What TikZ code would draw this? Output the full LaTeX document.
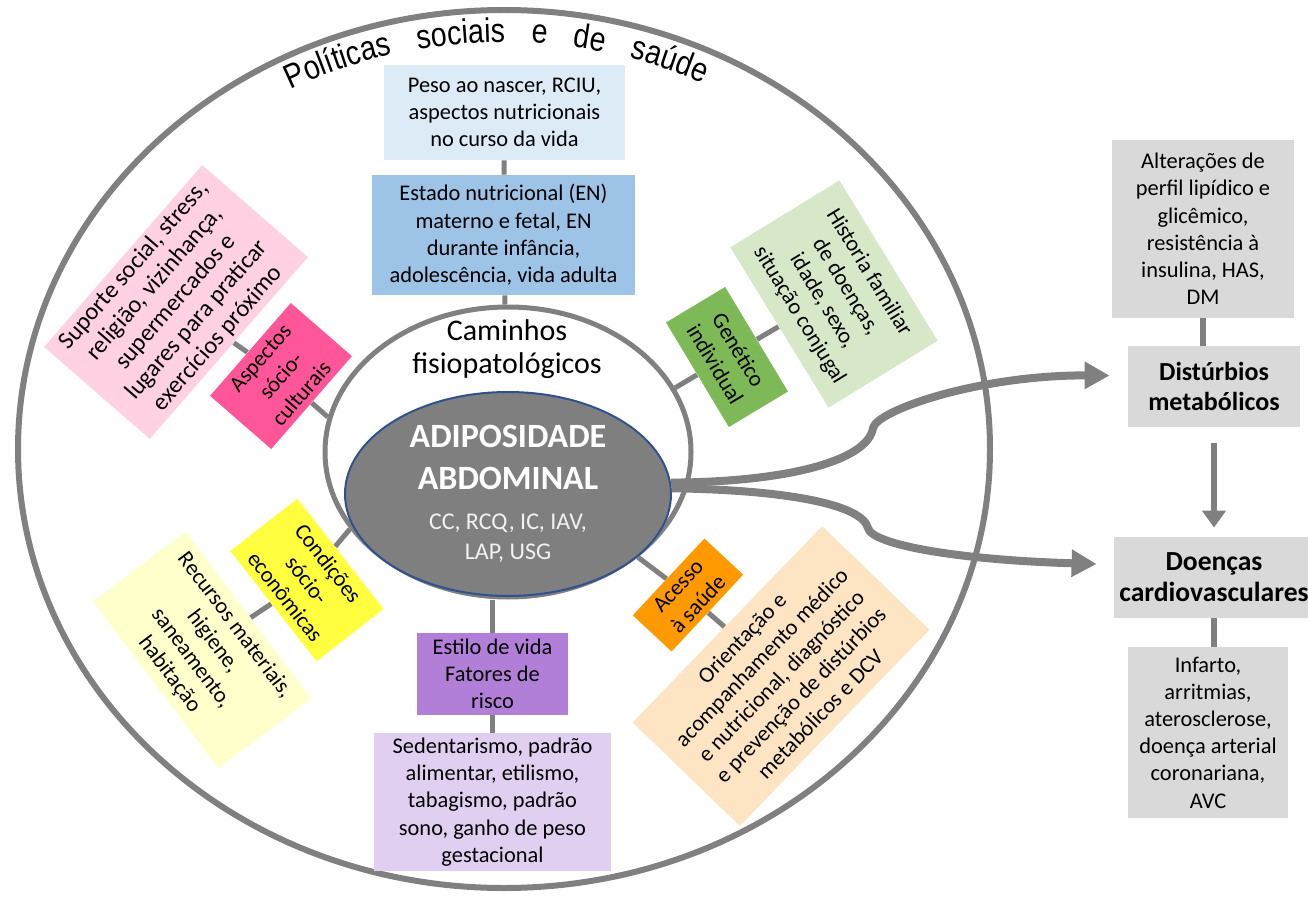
\documentclass[tikz,border=0pt]{standalone}
\usepackage{fontspec}
\setmainfont{Carlito}
\newfontfamily\arialfont[FakeStretch=0.84]{Liberation Sans}
\usetikzlibrary{shapes.geometric,arrows.meta,decorations.text,backgrounds}
\definecolor{linegray}{RGB}{128,128,128}
\definecolor{adipogray}{RGB}{127,127,127}
\definecolor{adipoborder}{RGB}{47,82,143}
\definecolor{adipotext}{RGB}{242,242,242}
\definecolor{pesofill}{RGB}{221,235,247}
\definecolor{estadofill}{RGB}{157,195,230}
\definecolor{estilofill}{RGB}{178,127,216}
\definecolor{sedentfill}{RGB}{225,207,241}
\definecolor{suportefill}{RGB}{255,209,227}
\definecolor{aspectosfill}{RGB}{255,85,153}
\definecolor{geneticofill}{RGB}{126,185,87}
\definecolor{historiafill}{RGB}{214,232,200}
\definecolor{condicoesfill}{RGB}{255,255,64}
\definecolor{recursosfill}{RGB}{255,255,204}
\definecolor{acessofill}{RGB}{255,153,0}
\definecolor{orientacaofill}{RGB}{253,229,196}
\definecolor{rightfill}{RGB}{217,217,217}
\newcommand{\boxfont}{\fontsize{11.2}{13.6}\selectfont}
\newcommand{\headfont}{\fontsize{13}{15}\selectfont\bfseries}
\newcommand{\bigheadfont}{\fontsize{13.8}{15.5}\selectfont\bfseries}
\tikzstyle{box}       = [rectangle, align=center, inner sep=2pt, font=\boxfont]
\tikzstyle{link}      = [draw=linegray, line width=2.5pt]
\tikzstyle{rlink}     = [draw=linegray, line width=2.8pt]
\tikzstyle{bigarrow}  = [draw=linegray, line width=4pt, -{Triangle[length=12.5pt,width=13pt]}]
\tikzstyle{downarrow} = [draw=linegray, line width=3pt, -{Triangle[length=8.5pt,width=11.5pt]}]

\begin{document}
\begin{tikzpicture}[x=0.5pt,y=-0.5pt]
	\useasboundingbox (0,0) rectangle (1308,899);

	% outer ring and its title
	\draw[linegray, line width=3pt] (504,449) ellipse [x radius=486, y radius=439];
	\path[decorate, decoration={text along path, text align=fit to path stretching spaces,
		text={|\arialfont\fontsize{17}{20}\selectfont|Políticas sociais e de saúde}}]
		(504,449) ++(-118:454 and 407) arc[start angle=-118, end angle=-64, x radius=454, y radius=407];

	% centre
	\node[ellipse, draw=linegray, line width=2.5pt, minimum width=183pt, minimum height=145pt] (caminhos) at (508,452) {};
	\node[align=center, font=\fontsize{15}{16.5}\selectfont] (camtxt) at (507,349) {Caminhos\\fisiopatológicos};
	\node[ellipse, fill=adipogray, draw=adipoborder, line width=1pt, inner sep=1pt, minimum width=163pt, minimum height=102pt,
		align=center, text=white, font=\fontsize{17}{21}\selectfont\bfseries] (adipo) at (508,494)
		{ADIPOSIDADE\\[0pt]ABDOMINAL\\[-1pt]{\fontsize{12}{15}\selectfont\mdseries\color{adipotext}CC, RCQ, IC, IAV,}\\[-6pt]{\fontsize{12}{15}\selectfont\mdseries\color{adipotext}LAP, USG}};

	% top and bottom
	\node[box, fill=pesofill, minimum width=120.5pt, minimum height=47.5pt] (peso) at (504.5,112.5) {Peso ao nascer, RCIU,\\aspectos nutricionais\\no curso da vida};
	\node[box, fill=estadofill, minimum width=131.5pt, minimum height=60pt] (estado) at (503.5,235) {Estado nutricional (EN)\\materno e fetal, EN\\durante infância,\\adolescência, vida adulta};
	\node[box, fill=estilofill, minimum width=75.5pt, minimum height=41pt] (estilo) at (492.5,674) {Estilo de vida\\Fatores de\\risco};
	\node[box, fill=sedentfill, minimum width=118.5pt, minimum height=69pt] (sedent) at (492.5,802) {Sedentarismo, padrão\\alimentar, etilismo,\\tabagismo, padrão\\sono, ganho de peso\\gestacional};

	% rotated pairs
	\node[box, fill=suportefill, minimum width=120.5pt, minimum height=69.5pt, rotate=49, font=\fontsize{12.2}{13.9}\selectfont] (suporte) at (176,302) {Suporte social, stress,\\religião, vizinhança,\\supermercados e\\lugares para praticar\\exercícios próximo};
	\node[box, fill=aspectosfill, minimum width=61.5pt, minimum height=40.5pt, rotate=49] (aspectos) at (281,376) {Aspectos\\sócio-\\culturais};
	\node[box, fill=geneticofill, minimum width=61pt, minimum height=34.5pt, rotate=-59] (genetico) at (727,357) {Genético\\individual};
	\node[box, fill=historiafill, minimum width=94pt, minimum height=64pt, rotate=-58.5] (historia) at (834,294) {Historia familiar\\de doenças,\\idade, sexo,\\situação conjugal};
	\node[box, fill=condicoesfill, minimum width=70pt, minimum height=42.5pt, rotate=-52] (condicoes) at (307,580) {Condições\\sócio-\\econômicas};
	\node[box, fill=recursosfill, minimum width=104.5pt, minimum height=58pt, rotate=-53] (recursos) at (202,650) {Recursos materiais,\\higiene,\\saneamento,\\habitação};
	\node[box, fill=acessofill, minimum width=52.5pt, minimum height=26.5pt, rotate=47] (acesso) at (688,595) {Acesso\\à saúde};
	\node[box, fill=orientacaofill, minimum width=136.5pt, minimum height=74.5pt, rotate=46] (orientacao) at (781,676) {Orientação e\\acompanhamento médico\\e nutricional, diagnóstico\\e prevenção de distúrbios\\metabólicos e DCV};

	% right column
	\node[box, fill=rightfill, minimum width=91pt, minimum height=89pt] (alter) at (1203,229) {Alterações de\\perfil lipídico e\\glicêmico,\\resistência à\\insulina, HAS,\\DM};
	\node[box, fill=rightfill, minimum width=86pt, minimum height=40.5pt, font=\headfont] (distm) at (1214,386.5) {Distúrbios\\metabólicos};
	\node[box, fill=rightfill, minimum width=100pt, minimum height=40.5pt, font=\bigheadfont] (doencas) at (1214,577.5) {Doenças\\cardiovasculares};
	\node[box, fill=rightfill, minimum width=80pt, minimum height=85.5pt] (infarto) at (1208,732.5) {Infarto,\\arritmias,\\aterosclerose,\\doença arterial\\coronariana,\\AVC};

	\begin{pgfonlayer}{background}
		\draw[link] (peso) -- (estado);
		\draw[link] (estado) -- (caminhos);
		\draw[link] (estilo.north) -- (estilo.north |- caminhos.south);
		\draw[link] (estilo) -- (sedent);
		\draw[link] (suporte) -- (aspectos) -- (caminhos.169);
		\draw[link] (historia) -- (genetico) -- (caminhos.21);
		\draw[link] (recursos) -- (condicoes) -- (caminhos.206);
		\draw[link] (orientacao) -- (acesso) -- (caminhos.321);
		\draw[rlink] (alter.south) -- (alter.south |- distm.north);
		\draw[rlink] (doencas.south) -- (doencas.south |- infarto.north);
	\end{pgfonlayer}

	% arrows
	\draw[bigarrow] (adipo.4) .. controls (790,482) and (868,460) .. (873,428)
		.. controls (877,410) and (980,375) .. ([xshift=-9pt,yshift=5.5pt]distm.west);
	\draw[bigarrow] (adipo.2) .. controls (790,490) and (862,505) .. (868,528)
		.. controls (872,545) and (960,560) .. ([xshift=-8.5pt,yshift=6.75pt]doencas.west);
	\draw[downarrow, shorten <=8pt, shorten >=4.5pt] (distm.south) -- (distm.south |- doencas.north);
\end{tikzpicture}
\end{document}
